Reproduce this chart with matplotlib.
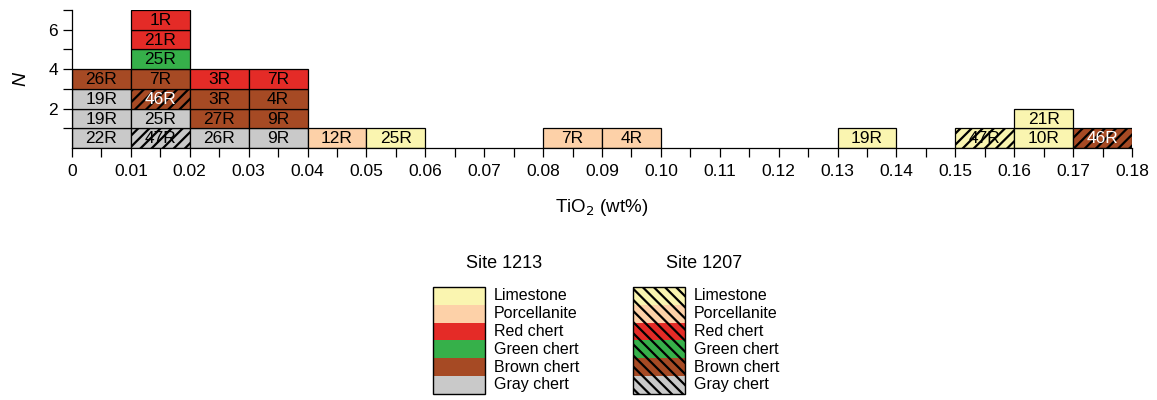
import matplotlib.pyplot as plt
from matplotlib.patches import Rectangle
from matplotlib.ticker import MultipleLocator

plt.rcParams['font.family'] = ['Liberation Sans', 'DejaVu Sans']
plt.rcParams['hatch.linewidth'] = 1.6

# TiO2 bin lower edges (wt%), one entry per sample, stacked bottom-up in order
bin_lo = [0.00, 0.00, 0.00, 0.00,
          0.01, 0.01, 0.01, 0.01, 0.01, 0.01, 0.01,
          0.02, 0.02, 0.02, 0.02,
          0.03, 0.03, 0.03, 0.03,
          0.04, 0.05, 0.08, 0.09, 0.13, 0.15, 0.16, 0.16, 0.17]
cores = ["22R", "19R", "19R", "26R",
         "47R", "25R", "46R", "7R", "25R", "21R", "1R",
         "26R", "27R", "3R", "3R",
         "9R", "9R", "4R", "7R",
         "12R", "25R", "7R", "4R", "19R", "47R", "10R", "21R", "46R"]
lithology = ["Gray", "Gray", "Gray", "Brown",
             "Gray", "Gray", "Brown", "Brown", "Green", "Red", "Red",
             "Gray", "Brown", "Brown", "Red",
             "Gray", "Brown", "Brown", "Red",
             "Porc", "Lime", "Porc", "Porc", "Lime", "Lime", "Lime", "Lime", "Brown"]
sites = [1213, 1213, 1213, 1213,
         1207, 1213, 1207, 1213, 1213, 1213, 1213,
         1213, 1213, 1213, 1213,
         1213, 1213, 1213, 1213,
         1213, 1213, 1213, 1213, 1213, 1207, 1213, 1213, 1207]

lith_names = ["Lime", "Porc", "Red", "Green", "Brown", "Gray"]
lith_labels = ["Limestone", "Porcellanite", "Red chert", "Green chert", "Brown chert", "Gray chert"]
colors = {"Lime": "#faf5b0", "Porc": "#fdd1a8", "Red": "#e42b27",
          "Green": "#36b04a", "Brown": "#a64a24", "Gray": "#c9c9c9"}

fig = plt.figure(figsize=(11.57, 4.0), dpi=100)
ax = fig.add_axes([0.0622, 0.63, 0.9162, 0.345])

bw = 0.01
levels = {}
for x, core, lith, site in zip(bin_lo, cores, lithology, sites):
    key = round(x, 3)
    lvl = levels.get(key, 0)
    levels[key] = lvl + 1
    hatched = site == 1207
    ax.bar(x, 1, width=bw, bottom=lvl, align='edge', color=colors[lith],
           edgecolor='black', linewidth=0.9, hatch='///' if hatched else None,
           zorder=2)
    tcol = 'white' if (hatched and lith == "Brown") else 'black'
    ax.text(x + bw / 2, lvl + 0.47, core, ha='center', va='center',
            fontsize=12.5, color=tcol, zorder=3)

ax.set_xlim(0, 0.18)
ax.set_ylim(0, 7)
ax.xaxis.set_minor_locator(MultipleLocator(0.005))
xt = [i / 100 for i in range(19)]
ax.set_xticks(xt)
ax.set_xticklabels(["0"] + ["%.2f" % v for v in xt[1:]])
ax.set_yticks([2, 4, 6])
ax.set_yticks([1, 3, 5, 7], minor=True)
ax.tick_params(axis='both', which='both', direction='out', length=6.5, width=0.9,
               labelsize=12.5)
ax.tick_params(axis='x', pad=5)
for s in ['top', 'right']:
    ax.spines[s].set_visible(False)
for s in ['left', 'bottom']:
    ax.spines[s].set_linewidth(0.9)

ax.set_xlabel("TiO$_2$ (wt%)", fontsize=13.5, labelpad=13)
ax.set_ylabel("N", fontsize=14, style='italic', labelpad=14)

# legend panel in pixel coordinates
lg = fig.add_axes([0, 0, 1, 1])
lg.set_xlim(0, 1157)
lg.set_ylim(400, 0)
lg.axis('off')
row_h = 17.8
top = 287
for col_x, site, hatch in [(433, "Site 1213", None), (633, "Site 1207", '\\\\\\')]:
    lg.text(col_x + 71, 264, site, ha='center', va='center', fontsize=13)
    for i, (name, label) in enumerate(zip(lith_names, lith_labels)):
        y0 = top + i * row_h
        lg.add_patch(Rectangle((col_x, y0), 52, row_h, facecolor=colors[name],
                               edgecolor='black', hatch=hatch, linewidth=0))
        lg.text(col_x + 61, y0 + row_h / 2, label, ha='left', va='center', fontsize=11.5)
    lg.add_patch(Rectangle((col_x, top), 52, row_h * 6, facecolor='none',
                           edgecolor='black', linewidth=1.0))

fig.savefig("out.png", dpi=100)
